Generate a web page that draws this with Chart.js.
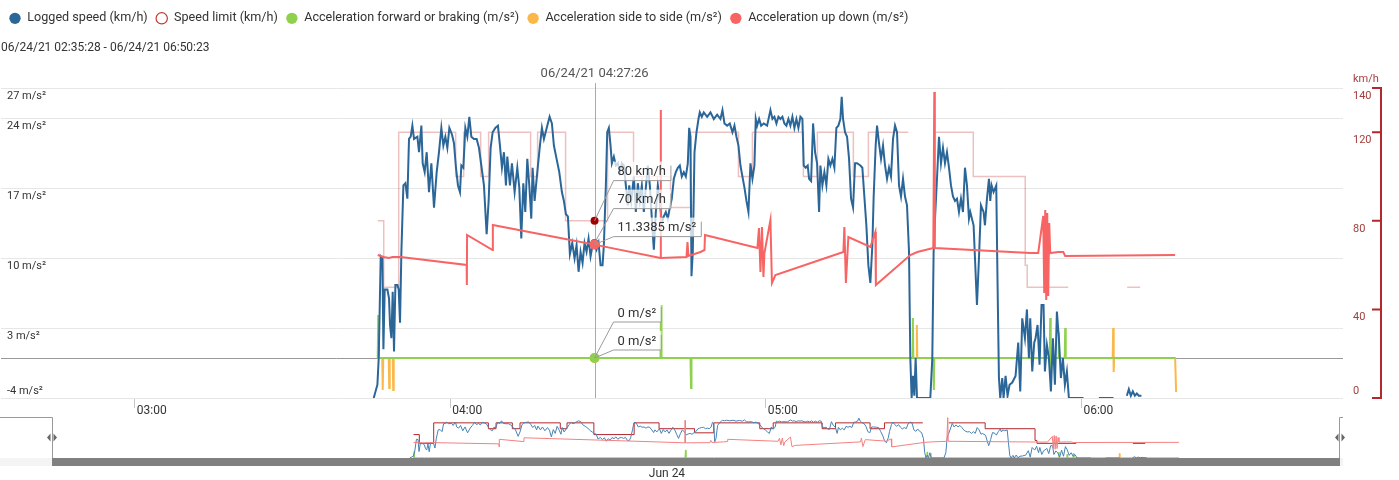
<!DOCTYPE html>
<html>
<head>
<meta charset="utf-8">
<script src="https://cdn.jsdelivr.net/npm/chart.js@4.4.1/dist/chart.umd.min.js"></script>
<style>
  html, body { margin: 0; padding: 0; background: #fff; }
  #wrap { position: relative; width: 1399px; height: 480px; overflow: hidden; }
  #main-box { position: absolute; left: 0; top: 0; width: 1399px; height: 417px; }
  #nav-box { position: absolute; left: 0; top: 414px; width: 1399px; height: 66px; }
</style>
</head>
<body>
<div id="wrap">
  <div id="main-box"><canvas id="main-chart"></canvas></div>
  <div id="nav-box"><canvas id="nav-chart"></canvas></div>
</div>
<script>
// time values are minutes after midnight (06/24/21)
const tripRange = "06/24/21 02:35:28 - 06/24/21 06:50:23";
const tripDate = "06/24/21";
const axisStart = 154.57;
const axisEnd = 409.74;
const crosshairTime = 267.43;
const navDateLabel = "Jun 24";
const navDateTime = 276.4;

const hourTicks = [180, 240, 300, 360];
const accelTicks = [-4, 3, 10, 17, 24, 27];
const speedTicks = [0, 40, 80, 120, 140];

// [minute, km/h]
const loggedSpeed = [
  [225.44,0],[226.14,6],[226.39,18],[226.77,64],[227.09,63],[227.28,22],[227.53,49],[228.04,49],[228.35,45],[228.54,33],
  [228.80,27],[229.05,48],[229.30,21],[229.56,51],[229.94,51],[230.19,49],[230.44,34],[230.70,66],[231.08,96],[231.46,97],
  [231.84,90],[232.15,117],[232.47,118],[232.79,123],[233.10,117],[233.74,118],[234.05,111],[234.50,123],[234.75,106],[235.13,102],
  [235.51,111],[235.95,93],[236.40,106],[236.90,86],[237.41,102],[237.85,111],[238.30,122],[238.68,114],[239.06,118],[239.44,113],
  [239.82,122],[240.32,119],[240.70,115],[241.08,104],[241.46,96],[241.84,93],[242.10,105],[242.48,104],[242.86,122],[243.24,118],
  [243.62,127],[244.00,118],[244.50,117],[245.01,117],[245.45,113],[245.90,105],[246.40,96],[246.91,74],[247.29,89],[247.67,113],
  [248.05,120],[248.56,122],[249.06,123],[249.44,114],[249.82,104],[250.20,111],[250.58,96],[250.84,109],[251.34,96],[251.72,106],
  [252.23,93],[252.74,104],[253.12,95],[253.50,72],[253.88,97],[254.26,84],[254.64,108],[255.02,96],[255.40,81],[255.65,104],
  [256.03,89],[256.54,102],[257.04,114],[257.42,122],[257.80,117],[258.44,123],[258.88,127],[259.32,124],[259.70,114],[260.21,108],
  [260.72,102],[261.22,93],[261.60,89],[261.98,83],[262.36,82],[262.74,65],[263.19,70],[263.63,63],[264.01,69],[264.39,57],
  [264.77,66],[265.15,61],[265.53,70],[265.91,66],[266.29,72],[266.67,64],[267.05,69],[267.43,70],[267.81,67],[268.19,70],
  [268.57,60],[268.95,60],[269.20,69],[269.58,96],[269.84,120],[270.15,122],[270.47,114],[270.72,106],[271.10,109],[271.48,105],
  [271.86,106],[272.24,102],[272.62,106],[273.00,105],[273.38,96],[273.76,87],[274.02,96],[274.40,89],[274.90,100],[275.28,84],
  [275.66,97],[276.04,89],[276.42,96],[276.80,84],[277.18,95],[277.56,105],[277.94,96],[278.32,81],[278.70,67],[279.08,84],
  [279.46,96],[279.84,89],[280.22,79],[280.60,82],[280.98,84],[281.36,81],[281.74,86],[282.12,90],[282.50,99],[282.88,102],
  [283.26,104],[283.64,105],[284.02,100],[284.40,102],[284.78,100],[285.16,106],[285.42,122],[285.67,118],[285.86,55],[286.11,66],
  [286.43,111],[286.81,120],[287.19,126],[287.44,129],[287.82,127],[288.20,129],[288.84,127],[289.47,129],[290.10,126],[290.74,128],
  [291.37,126],[291.75,130],[292.13,124],[292.64,123],[293.14,124],[293.65,120],[294.03,123],[294.41,118],[294.79,114],[295.17,105],
  [295.55,100],[295.93,95],[296.31,89],[296.69,84],[297.07,106],[297.45,99],[297.83,105],[298.08,126],[298.34,123],[298.72,126],
  [299.10,123],[299.60,124],[300.24,123],[300.87,130],[301.25,126],[301.63,127],[302.01,124],[302.39,127],[302.77,126],[303.15,127],
  [303.53,124],[303.91,123],[304.29,126],[304.67,123],[305.05,127],[305.43,122],[305.81,126],[306.19,122],[306.57,127],[306.95,126],
  [307.20,105],[307.58,104],[307.96,105],[308.22,99],[308.60,98],[308.98,124],[309.36,111],[309.74,106],[310.12,84],[310.37,105],
  [310.75,96],[311.13,102],[311.51,96],[311.89,108],[312.27,105],[312.65,108],[313.03,104],[313.41,122],[313.79,123],[314.17,126],
  [314.42,136],[314.68,126],[315.06,120],[315.44,118],[315.82,108],[316.20,90],[316.58,86],[316.96,106],[317.34,106],[317.97,105],
  [318.35,104],[318.73,91],[319.11,78],[319.49,60],[319.87,52],[320.25,69],[320.50,91],[320.88,114],[321.14,123],[321.52,115],
  [321.90,108],[322.28,114],[322.66,105],[323.04,99],[323.42,104],[323.80,100],[324.18,117],[324.56,123],[324.94,120],[325.32,96],
  [325.70,91],[326.08,99],[326.46,91],[326.84,87],[327.22,66],[327.47,18],[327.72,0],[327.98,10],[328.23,1],[328.48,18],
  [328.74,0],[331.27,0],[331.65,18],[331.90,66],[332.16,81],[332.54,99],[332.92,118],[333.30,106],[333.68,113],[334.06,106],
  [334.44,111],[334.82,104],[335.20,96],[335.58,91],[335.96,89],[336.34,90],[336.72,84],[337.10,90],[337.48,84],[337.86,104],
  [338.24,96],[338.62,81],[338.87,84],[339.50,78],[340.14,42],[340.52,63],[340.90,87],[341.40,84],[341.66,78],[342.04,90],
  [342.42,99],[342.67,89],[342.92,96],[343.30,93],[343.81,96],[344.06,51],[344.32,9],[344.57,0],[344.95,9],[345.20,0],
  [345.58,10],[345.96,1],[346.34,6],[346.85,7],[347.48,10],[347.99,25],[348.37,3],[348.75,36],[349.26,27],[349.64,40],
  [350.02,18],[350.27,36],[350.65,12],[351.03,25],[351.28,27],[351.66,33],[352.04,15],[352.42,42],[352.80,42],[353.06,12],
  [353.44,24],[353.82,18],[354.20,3],[354.58,27],[354.96,6],[355.34,39],[355.72,27],[356.10,9],[356.48,18],[356.86,6],
  [357.24,12],[357.62,0],[360.40,0],[361.80,null],[363.32,0],[366.10,0],[367.40,null],[368.64,1],[369.02,4],[369.40,1],
  [369.78,3],[370.16,1],[370.54,2],[370.92,1],[371.42,1]
];

// [minute, km/h] - each value holds until the next one
const speedLimit = [
  [226.20,80],[227.34,50],[230.19,120],[241.02,100],[242.54,120],[245.77,100],[247.29,120],[255.27,100],[256.60,120],[261.92,80],
  [269.90,120],[274.84,100],[281.87,86],[285.67,120],[294.79,100],[297.45,120],[307.14,100],[309.80,120],[316.64,100],[319.49,120],
  [327.09,120],[329.50,null],[332.22,120],[339.44,100],[349.32,60],[349.70,50],[357.49,50],[362.00,null],[368.70,50],[371.17,50]
];

// [minute, m/s²]
const accelForward = [
  [226.20,0],[226.30,4.3],[226.39,0],[279.97,0],[280.07,5.3],[280.16,0],[285.67,0],[285.77,-3],[285.86,0],[327.85,0],
  [327.95,4],[328.04,0],[331.84,0],[331.94,-3.2],[332.03,0],[353.98,0],[354.07,4],[354.17,-1.7],[354.26,0],[355.59,0],
  [355.69,2.6],[355.78,0],[356.83,0],[356.92,3],[357.02,0],[377.82,0]
];

const accelSide = [
  [226.20,0],[227.06,0],[227.15,-3.2],[227.25,0],[228.29,0],[228.39,-3.0],[228.48,0],[229.05,0],[229.15,-3.2],[229.24,0],
  [328.61,0],[328.71,3.3],[328.80,0],[365.95,0],[366.04,3.0],[366.14,-1.4],[366.23,0],[377.82,0],[378.01,-3.4]
];

const accelUpDown = [
  [226.20,10.3],[227.34,10.1],[228.29,10.0],[229.05,10.1],[230.57,10.1],[243.11,9.3],[243.15,7.3],[243.19,12.3],[248.05,10.8],[248.09,13.3],
  [262.87,11.8],[267.43,11.3385],[279.97,10.0],[280.01,24.8],[280.05,10.0],[284.91,10.1],[285.10,11.6],[285.29,10.2],[287.57,10.6],[288.33,10.8],
  [288.43,12.3],[298.40,11.0],[298.69,13.0],[298.97,8.6],[299.26,13.1],[299.54,8.1],[299.73,10.5],[300.87,13.8],[301.16,7.5],[301.82,8.3],
  [314.74,10.6],[314.93,13.1],[315.22,7.5],[315.69,12.1],[319.87,11.1],[320.82,12.6],[320.92,7.3],[327.47,10.3],[328.80,10.6],[331.84,11.0],
  [332.03,26.6],[332.13,11.0],[350.27,10.5],[351.79,10.5],[352.74,14.2],[352.93,6.5],[353.12,14.8],[353.31,5.8],[353.50,14.5],[353.69,6.2],
  [353.88,13.5],[354.07,10.5],[355.59,10.6],[356.54,10.6],[356.92,10.2],[377.82,10.3]
];

Chart.defaults.font.family = 'Roboto, "Noto Sans", "DejaVu Sans", sans-serif';
Chart.defaults.color = "#333";

const seriesList = [
  { label: "Logged speed (km/h)", data: loggedSpeed, axis: "y1", unit: "km/h", color: "#2b6699", navColor: "#4683b5", legendFill: "#2b6699", legendStroke: "#2b6699", width: 2, order: 2, marker: "#2b6699", r: 4 },
  { label: "Speed limit (km/h)", data: speedLimit, axis: "y1", unit: "km/h", color: "rgba(200, 50, 50, 0.3)", navColor: "#b3282d", legendFill: "#fff", legendStroke: "#c0392b", width: 1.5, order: 5, stepped: true, marker: "#a30000", r: 4 },
  { label: "Acceleration forward or braking (m/s²)", data: accelForward, axis: "y", unit: "m/s²", color: "#8fd14f", navColor: "#8fd14f", legendFill: "#8fd14f", legendStroke: "#8fd14f", width: 2, order: 3, marker: "#8fd14f", r: 5 },
  { label: "Acceleration side to side (m/s²)", data: accelSide, axis: "y", unit: "m/s²", color: "#fbb84a", navColor: "#fbb84a", legendFill: "#fbb84a", legendStroke: "#fbb84a", width: 2, order: 4, marker: "#fbb84a", r: 5 },
  { label: "Acceleration up down (m/s²)", data: accelUpDown, axis: "y", unit: "m/s²", color: "#f86464", navColor: "#f58080", legendFill: "#f86464", legendStroke: "#f86464", width: 2, order: 1, marker: "#f86464", r: 5 }
];

function toXY(pairs) {
  return pairs.map(([x, y]) => ({ x: x, y: y }));
}

function fmtClock(min, withSeconds) {
  const total = Math.round(min * 60);
  const p = n => String(n).padStart(2, "0");
  const h = Math.floor(total / 3600), m = Math.floor((total % 3600) / 60), s = total % 60;
  return withSeconds ? `${p(h)}:${p(m)}:${p(s)}` : `${p(h)}:${p(m)}`;
}

function valueAt(pairs, t, stepped) {
  let prev = null;
  for (const [x, y] of pairs) {
    if (Math.abs(x - t) < 1e-6) return y;
    if (x > t) {
      if (!prev) return null;
      if (stepped) return prev[1];
      return prev[1] + (y - prev[1]) * (t - prev[0]) / (x - prev[0]);
    }
    prev = [x, y];
  }
  return null;
}

function fmtValue(v) {
  return String(Math.round(v * 10000) / 10000);
}

const mainDecor = {
  id: "mainDecor",
  beforeDatasetsDraw(chart) {
    const { ctx, chartArea: area, scales } = chart;
    ctx.save();
    // zero line of the acceleration axis
    const y0 = Math.round(scales.y.getPixelForValue(0)) + 0.5;
    ctx.strokeStyle = "#999";
    ctx.lineWidth = 1;
    ctx.beginPath();
    ctx.moveTo(area.left, y0);
    ctx.lineTo(area.right, y0);
    ctx.stroke();
    // crosshair
    const cx = Math.round(scales.x.getPixelForValue(crosshairTime)) + 0.5;
    ctx.strokeStyle = "#aaa";
    ctx.beginPath();
    ctx.moveTo(cx, area.top - 5);
    ctx.lineTo(cx, area.bottom);
    ctx.stroke();
    ctx.restore();
  },
  afterDatasetsDraw(chart) {
    const { ctx, scales } = chart;
    const cx = scales.x.getPixelForValue(crosshairTime);
    const labels = [];
    ctx.save();
    // markers: series lower in the drawing stack first
    [...seriesList].sort((a, b) => b.order - a.order).forEach(s => {
      const v = valueAt(s.data, crosshairTime, s.stepped);
      if (v === null) return;
      const py = scales[s.axis].getPixelForValue(v);
      ctx.fillStyle = s.marker;
      ctx.beginPath();
      ctx.arc(cx, py, s.r, 0, Math.PI * 2);
      ctx.fill();
      labels.push({ py: py, text: fmtValue(v) + " " + s.unit });
    });
    // split tooltip callouts, stacked upward from the lowest point
    labels.sort((a, b) => b.py - a.py);
    ctx.font = "13px " + Chart.defaults.font.family;
    let prevBottom = Infinity;
    labels.forEach(l => {
      const bottom = Math.min(l.py - 8, prevBottom - 28);
      prevBottom = bottom;
      const top = bottom - 19;
      const left = cx + 19;
      const w = ctx.measureText(l.text).width;
      const right = left + w + 9;
      ctx.fillStyle = "rgba(255,255,255,0.75)";
      ctx.fillRect(left, top, right - left, bottom - top);
      ctx.strokeStyle = "#9a9a9a";
      ctx.lineWidth = 1;
      ctx.beginPath();
      ctx.moveTo(cx, l.py);
      ctx.lineTo(left, bottom);
      ctx.lineTo(right, bottom);
      ctx.lineTo(right, top + 4);
      ctx.stroke();
      ctx.fillStyle = "#333";
      ctx.textAlign = "left";
      ctx.textBaseline = "middle";
      ctx.fillText(l.text, left + 4, (top + bottom) / 2 + 1);
    });
    ctx.restore();
  },
  afterDraw(chart) {
    const { ctx, chartArea: area, scales } = chart;
    const font = Chart.defaults.font.family;
    ctx.save();
    ctx.textBaseline = "middle";
    // left axis labels (below their grid line, the lowest one above)
    ctx.font = "11px " + font;
    ctx.fillStyle = "#333";
    ctx.textAlign = "left";
    accelTicks.forEach((v, i) => {
      const py = scales.y.getPixelForValue(v);
      ctx.fillText(v + " m/s²", area.left + 6, i === 0 ? py - 7 : py + 8);
    });
    // right axis bracket
    const ax = area.right + 38;
    const yTop = scales.y1.getPixelForValue(speedTicks[speedTicks.length - 1]);
    const yBot = scales.y1.getPixelForValue(speedTicks[0]);
    ctx.strokeStyle = "#b3282d";
    ctx.lineWidth = 2;
    ctx.beginPath();
    ctx.moveTo(ax, yTop);
    ctx.lineTo(ax, yBot);
    speedTicks.forEach(v => {
      const py = scales.y1.getPixelForValue(v);
      ctx.moveTo(ax - 9, py);
      ctx.lineTo(ax + 1, py);
    });
    ctx.stroke();
    ctx.fillStyle = "#a33f3f";
    speedTicks.forEach((v, i) => {
      const py = scales.y1.getPixelForValue(v);
      ctx.fillText(String(v), area.right + 10, i === 0 ? py - 7 : py + 8);
    });
    ctx.fillText("km/h", area.right + 10, yTop - 9);
    // crosshair time label
    ctx.font = "13px " + font;
    ctx.fillStyle = "#555";
    ctx.textAlign = "center";
    ctx.fillText(tripDate + " " + fmtClock(crosshairTime, true), scales.x.getPixelForValue(crosshairTime), area.top - 14);
    ctx.restore();
  }
};

const navDecor = {
  id: "navDecor",
  afterDraw(chart) {
    const { ctx, chartArea: a, scales } = chart;
    ctx.save();
    ctx.fillStyle = "#f4f4f4";
    ctx.fillRect(0, a.bottom, a.right + 3, 8);
    ctx.fillStyle = "#808080";
    ctx.fillRect(a.left, a.bottom, a.right - a.left, 8);
    ctx.strokeStyle = "#999";
    ctx.lineWidth = 1;
    ctx.beginPath();
    ctx.moveTo(0, a.top + 0.5);
    ctx.lineTo(a.left + 0.5, a.top + 0.5);
    ctx.lineTo(a.left + 0.5, a.bottom);
    ctx.moveTo(a.right - 0.5, a.bottom);
    ctx.lineTo(a.right - 0.5, a.top + 0.5);
    ctx.lineTo(a.right + 3, a.top + 0.5);
    ctx.stroke();
    const hy = (a.top + a.bottom) / 2;
    ctx.fillStyle = "#666";
    [a.left, a.right].forEach(hx => {
      ctx.beginPath();
      ctx.moveTo(hx - 5, hy);
      ctx.lineTo(hx - 1.5, hy - 4);
      ctx.lineTo(hx - 1.5, hy + 4);
      ctx.closePath();
      ctx.fill();
      ctx.beginPath();
      ctx.moveTo(hx + 5, hy);
      ctx.lineTo(hx + 1.5, hy - 4);
      ctx.lineTo(hx + 1.5, hy + 4);
      ctx.closePath();
      ctx.fill();
    });
    ctx.fillStyle = "#333";
    ctx.font = "12px " + Chart.defaults.font.family;
    ctx.textAlign = "center";
    ctx.textBaseline = "middle";
    ctx.fillText(navDateLabel, scales.x.getPixelForValue(navDateTime), a.bottom + 16);
    ctx.restore();
  }
};

new Chart(document.getElementById("main-chart"), {
  type: "line",
  data: {
    datasets: seriesList.map(s => ({
      label: s.label,
      data: toXY(s.data),
      yAxisID: s.axis,
      borderColor: s.color,
      backgroundColor: s.legendFill,
      borderWidth: s.width,
      pointRadius: 0,
      stepped: s.stepped || false,
      order: s.order,
      tension: 0
    }))
  },
  options: {
    responsive: true,
    maintainAspectRatio: false,
    animation: false,
    events: [],
    layout: { padding: { left: 1, right: 56, top: 4, bottom: 1 } },
    plugins: {
      legend: {
        position: "top",
        align: "start",
        labels: {
          usePointStyle: true,
          pointStyle: "circle",
          boxWidth: 12,
          boxHeight: 8,
          padding: 8,
          color: "#333",
          font: { size: 12.6 },
          generateLabels(chart) {
            const items = Chart.defaults.plugins.legend.labels.generateLabels(chart);
            items.forEach(item => {
              const s = seriesList[item.datasetIndex];
              item.fillStyle = s.legendFill;
              item.strokeStyle = s.legendStroke;
              item.lineWidth = s.legendFill === "#fff" ? 1.2 : 0;
              item.pointStyle = "circle";
            });
            return items.sort((a, b) => a.datasetIndex - b.datasetIndex);
          }
        }
      },
      subtitle: {
        display: true,
        text: tripRange,
        align: "start",
        color: "#333",
        weight: 500,
        font: { size: 12 },
        padding: { top: 6, bottom: 33 }
      },
      tooltip: { enabled: false }
    },
    scales: {
      x: {
        type: "linear",
        min: axisStart,
        max: axisEnd,
        afterBuildTicks: scale => { scale.ticks = hourTicks.map(v => ({ value: v })); },
        afterFit: scale => { scale.height = 18; },
        ticks: {
          callback: v => fmtClock(v, false),
          align: "start",
          padding: -4,
          labelOffset: 2,
          autoSkip: false,
          maxRotation: 0,
          color: "#333",
          font: { size: 12 }
        },
        grid: { drawOnChartArea: false, drawTicks: true, tickLength: 10, color: "#c8c8c8" },
        border: { display: false }
      },
      y: {
        position: "left",
        min: -4,
        max: 27,
        afterBuildTicks: scale => { scale.ticks = accelTicks.map(v => ({ value: v })); },
        ticks: { display: false },
        grid: { color: "#e6e6e6", drawTicks: false },
        border: { display: false }
      },
      y1: {
        position: "right",
        display: false,
        min: 0,
        max: 140
      }
    }
  },
  plugins: [mainDecor]
});

new Chart(document.getElementById("nav-chart"), {
  type: "line",
  data: {
    datasets: seriesList.map(s => ({
      label: s.label,
      data: toXY(s.data),
      yAxisID: s.axis,
      borderColor: s.navColor,
      borderWidth: 1,
      pointRadius: 0,
      stepped: s.stepped || false,
      order: s.order,
      tension: 0
    }))
  },
  options: {
    responsive: true,
    maintainAspectRatio: false,
    animation: false,
    events: [],
    layout: { padding: { left: 52, right: 59, top: 3, bottom: 22 } },
    plugins: { legend: { display: false }, tooltip: { enabled: false } },
    scales: {
      x: { type: "linear", min: axisStart, max: axisEnd, display: false },
      y: { min: 0, max: 27, display: false },
      y1: { min: 0, max: 140, display: false }
    }
  },
  plugins: [navDecor]
});
</script>
</body>
</html>
